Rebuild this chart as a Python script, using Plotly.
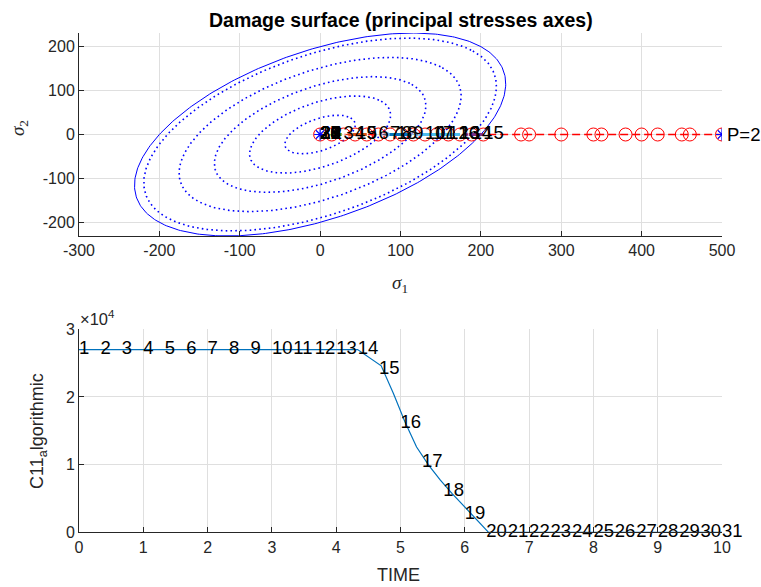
import numpy as np
import plotly.graph_objects as go

W, H = 761, 587

# ---------------- data ----------------
# Damage surface radii (von Mises type: s1^2 - s1*s2 + s2^2 = R^2)
R_initial = 200
R_dotted = [38, 76, 114, 152, 190]

# trial stress points along sigma1 (red circles), sigma2 = 0
trial_s1 = [0, 14.5, 29, 43.5, 58, 72.5, 87, 101.5, 116, 130.5, 145, 159.5, 174, 188.5, 203,
            250, 260, 300, 340, 350, 380, 400, 420, 450, 460, 500]
# path end points (blue asterisks)
path_s1 = [0, 500]
path_s2 = [0, 0]

# actual stress label positions (step numbers 1..31) along sigma1
step_ids = list(range(1, 32))
step_s1 = [0, 14.5, 29, 43.5, 58, 72.5, 87, 101.5, 116, 130.5, 145, 159.5, 174, 188.5, 203,
           172, 140, 95, 45, 0, 0, 0, 0, 0, 0, 0, 0, 0, 0, 0, 0]

# stress increment arrows (start, end) along sigma1 and their colours
arrow_start = [203, 174, 112, 58, 27]
arrow_end = [174, 112, 75, 29, 9]
arrow_colors = ["#7E2F8E", "#4DBEEE", "#0072BD", "#D95319", "#77AC30"]

# C11 algorithmic vs time (curve)
curve_t = [0, 4.333, 4.70, 4.89, 5.07, 5.25, 5.44, 5.62, 5.80, 5.99, 6.17, 6.37, 10]
curve_c = [27000, 27000, 24600, 20500, 16300, 12600, 9900, 7700, 5760, 3800, 2070, 0, 0]

# step labels on the C11 curve
label_t = [i / 3 for i in range(31)]
label_c = [27000] * 14 + [24100, 16100, 10400, 6100, 2600] + [0] * 12

# tick labels
top_xticks = [-300, -200, -100, 0, 100, 200, 300, 400, 500]
top_yticks = [-200, -100, 0, 100, 200]
bot_xticks = list(range(11))
bot_yticks = [0, 10000, 20000, 30000]
bot_yticktext = ["0", "1", "2", "3"]

# ---------------- helpers ----------------
def pxx(p):
    return p / W

def pxy(p):
    return 1 - p / H

FONT = "Liberation Sans, Arial, sans-serif"
AX = "#262626"
GRID = "#dfdfdf"
LBL = 18.5

fig = go.Figure()

th = np.linspace(0, 2 * np.pi, 400)
def ellipse(R):
    u = np.sqrt(2) * R * np.cos(th)
    v = np.sqrt(2.0 / 3.0) * R * np.sin(th)
    return (u + v) / np.sqrt(2), (u - v) / np.sqrt(2)

for R in R_dotted:
    ex, ey = ellipse(R)
    fig.add_trace(go.Scatter(x=ex, y=ey, mode="lines", xaxis="x", yaxis="y",
                             line=dict(color="#0000ff", width=1.6, dash="1.6px,3.2px"),
                             hoverinfo="skip", showlegend=False))
ex, ey = ellipse(R_initial)
fig.add_trace(go.Scatter(x=ex, y=ey, mode="lines", xaxis="x", yaxis="y",
                         line=dict(color="#0000ff", width=1), hoverinfo="skip", showlegend=False))

fig.add_trace(go.Scatter(x=trial_s1, y=[0] * len(trial_s1), mode="lines+markers",
                         xaxis="x", yaxis="y",
                         line=dict(color="#ff0000", width=1.5, dash="8px,4px"),
                         marker=dict(symbol="circle-open", size=13, color="#ff0000",
                                     line=dict(width=1)),
                         showlegend=False))

for a, b, c in zip(arrow_start, arrow_end, arrow_colors):
    fig.add_trace(go.Scatter(x=[a, b], y=[0, 0], mode="lines+markers", xaxis="x", yaxis="y",
                             line=dict(color=c, width=3),
                             marker=dict(symbol="arrow", angleref="previous", size=[0, 9],
                                         color=c),
                             showlegend=False))

fig.add_trace(go.Scatter(x=path_s1, y=path_s2, mode="markers", xaxis="x", yaxis="y",
                         marker=dict(symbol="asterisk-open", size=10, color="#0000ff",
                                     line=dict(width=1.2, color="#0000ff")),
                         showlegend=False))

fig.add_trace(go.Scatter(x=step_s1, y=[0] * len(step_s1), mode="text", xaxis="x", yaxis="y",
                         text=[str(i) for i in step_ids], textposition="middle right",
                         textfont=dict(family=FONT, size=LBL, color="#000000"),
                         cliponaxis=False, showlegend=False))

fig.add_trace(go.Scatter(x=curve_t, y=curve_c, mode="lines", xaxis="x2", yaxis="y2",
                         line=dict(color="#0072BD", width=1.2), showlegend=False))
fig.add_trace(go.Scatter(x=label_t, y=label_c, mode="text", xaxis="x2", yaxis="y2",
                         text=[str(i) for i in step_ids], textposition="middle right",
                         textfont=dict(family=FONT, size=LBL, color="#000000"),
                         cliponaxis=False, showlegend=False))

axis_common = dict(showline=True, linecolor=AX, linewidth=1, ticks="inside", ticklen=5,
                   tickcolor=AX, showgrid=True, gridcolor=GRID, gridwidth=1, zeroline=False,
                   mirror=False, automargin=False,
                   tickfont=dict(family=FONT, size=16, color=AX))

fig.update_layout(
    width=W, height=H, margin=dict(l=0, r=0, t=0, b=0, pad=0, autoexpand=False),
    paper_bgcolor="white", plot_bgcolor="white",
    xaxis=dict(domain=[pxx(79), pxx(722)], range=[-300, 500], anchor="y",
               tickvals=top_xticks, ticktext=[str(v) for v in top_xticks], **axis_common),
    yaxis=dict(domain=[pxy(236), pxy(33)], range=[-231, 231], anchor="x",
               tickvals=top_yticks, ticktext=[str(v) for v in top_yticks], **axis_common),
    xaxis2=dict(domain=[pxx(79), pxx(722)], range=[0, 10], anchor="y2",
                tickvals=bot_xticks, ticktext=[str(v) for v in bot_xticks], **axis_common),
    yaxis2=dict(domain=[pxy(532.3), pxy(329.3)], range=[0, 30000], anchor="x2",
                tickvals=bot_yticks, ticktext=bot_yticktext, **axis_common),
    annotations=[
        dict(text="<b>Damage surface (principal stresses axes)</b>", x=pxx(400.5), y=pxy(20),
             xref="paper", yref="paper", showarrow=False, xanchor="center", yanchor="middle",
             font=dict(family=FONT, size=19.5, color="#000000")),
        dict(text="<i>σ</i><sub>1</sub>", x=pxx(400), y=pxy(284), xref="paper", yref="paper",
             showarrow=False, xanchor="center", yanchor="middle",
             font=dict(family="Liberation Serif, Times New Roman, serif", size=19, color=AX)),
        dict(text="<i>σ</i><sub>2</sub>", x=pxx(19), y=pxy(128), xref="paper", yref="paper",
             showarrow=False, xanchor="center", yanchor="middle", textangle=-90,
             font=dict(family="Liberation Serif, Times New Roman, serif", size=19, color=AX)),
        dict(text="TIME", x=pxx(399), y=pxy(575), xref="paper", yref="paper",
             showarrow=False, xanchor="center", yanchor="middle",
             font=dict(family=FONT, size=18, color=AX)),
        dict(text="C11<sub>a</sub>lgorithmic", x=pxx(38), y=pxy(431), xref="paper",
             yref="paper", showarrow=False, xanchor="center", yanchor="middle", textangle=-90,
             font=dict(family=FONT, size=18, color=AX)),
        dict(text="×10<sup>4</sup>", x=pxx(78), y=pxy(318), xref="paper", yref="paper",
             showarrow=False, xanchor="left", yanchor="middle",
             font=dict(family=FONT, size=16.5, color=AX)),
        dict(text="P=2", x=500, y=0, xref="x", yref="y", showarrow=False, xanchor="left",
             yanchor="middle", xshift=3, font=dict(family=FONT, size=LBL, color="#000000")),
    ],
)

fig.write_html("out.html")
